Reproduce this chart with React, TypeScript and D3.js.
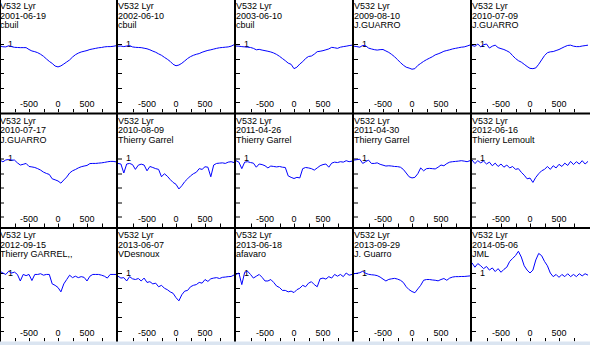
import * as d3 from "d3";
import { useEffect, useRef } from "react";

const STAR = "V532 Lyr";

const dates = [
	"2001-06-19", "2002-06-10", "2003-06-10", "2009-08-10", "2010-07-09",
	"2010-07-17", "2010-08-09", "2011-04-26", "2011-04-30", "2012-06-16",
	"2012-09-15", "2013-06-07", "2013-06-18", "2013-09-29", "2014-05-06",
];

const observers = [
	"cbuil", "cbuil", "cbuil", "J.GUARRO", "J.GUARRO",
	"J.GUARRO", "Thierry Garrel", "Thierry Garrel", "Thierry Garrel", "Thierry Lemoult",
	"Thierry GARREL,,", "VDesnoux", "afavaro", "J. Guarro", "JML",
];

// radial velocity grid (km/s)
const velocity = [
	-1000, -950, -900, -850, -800, -750, -700, -650, -600, -550, -500,
	-450, -400, -350, -300, -250, -200, -150, -100, -50, 0,
	50, 100, 150, 200, 250, 300, 350, 400, 450, 500,
	550, 600, 650, 700, 750, 800, 850, 900, 950, 1000,
];

// normalised flux, one array per spectrum
const flux01 = [
	0.986, 0.981, 0.98, 0.988, 0.982, 0.977, 0.976, 0.975, 0.975, 0.975, 0.962,
	0.952, 0.947, 0.94, 0.929, 0.915, 0.897, 0.88, 0.866, 0.848, 0.842,
	0.849, 0.862, 0.876, 0.89, 0.91, 0.926, 0.937, 0.945, 0.95, 0.955,
	0.962, 0.966, 0.97, 0.974, 0.976, 0.98, 0.982, 0.982, 0.984, 0.988,
];
const flux02 = [
	0.985, 0.986, 0.982, 0.986, 0.989, 0.98, 0.977, 0.976, 0.975, 0.971, 0.967,
	0.96, 0.951, 0.943, 0.932, 0.922, 0.908, 0.895, 0.88, 0.86, 0.85,
	0.855, 0.867, 0.883, 0.9, 0.913, 0.922, 0.929, 0.934, 0.943, 0.95,
	0.956, 0.96, 0.965, 0.97, 0.974, 0.976, 0.978, 0.98, 0.985, 0.995,
];
const flux03 = [
	0.986, 0.985, 0.982, 0.98, 0.978, 0.976, 0.97, 0.96, 0.963, 0.958, 0.954,
	0.95, 0.945, 0.938, 0.928, 0.915, 0.9, 0.885, 0.868, 0.86, 0.83,
	0.84, 0.862, 0.878, 0.9, 0.914, 0.917, 0.93, 0.947, 0.95, 0.954,
	0.96, 0.966, 0.977, 0.974, 0.97, 0.978, 0.982, 0.985, 0.989, 0.992,
];
const flux04 = [
	0.985, 0.982, 0.978, 0.99, 0.988, 0.972, 0.966, 0.961, 0.958, 0.961, 0.962,
	0.952, 0.942, 0.928, 0.912, 0.892, 0.872, 0.854, 0.84, 0.834, 0.826,
	0.83, 0.852, 0.866, 0.88, 0.892, 0.902, 0.912, 0.925, 0.932, 0.94,
	0.95, 0.955, 0.96, 0.966, 0.97, 0.974, 0.978, 0.98, 0.986, 0.993,
];
const flux05 = [
	0.99, 0.984, 1.0, 0.98, 0.995, 1.0, 0.972, 0.985, 0.992, 0.975, 0.968,
	0.962, 0.953, 0.942, 0.92, 0.9, 0.885, 0.875, 0.86, 0.845, 0.832,
	0.83, 0.835, 0.86, 0.89, 0.92, 0.94, 0.946, 0.948, 0.955, 0.962,
	0.972, 0.982, 0.99, 0.992, 0.985, 0.982, 0.982, 0.986, 0.989, 0.992,
];
const flux06 = [
	0.989, 0.977, 0.99, 0.993, 0.989, 0.989, 0.97, 0.955, 0.96, 0.966, 0.945,
	0.942, 0.938, 0.93, 0.92, 0.906, 0.897, 0.89, 0.86, 0.853, 0.845,
	0.83, 0.852, 0.872, 0.9, 0.915, 0.924, 0.935, 0.943, 0.948, 0.952,
	0.965, 0.966, 0.966, 0.968, 0.97, 0.973, 0.977, 0.98, 0.98, 0.977,
];
const flux07 = [
	0.966, 0.962, 0.9, 0.962, 0.966, 0.958, 0.925, 0.954, 0.961, 0.955, 0.915,
	0.945, 0.938, 0.93, 0.925, 0.874, 0.895, 0.878, 0.855, 0.835, 0.822,
	0.79, 0.812, 0.84, 0.86, 0.88, 0.895, 0.905, 0.93, 0.925, 0.943,
	0.94, 0.874, 0.955, 0.966, 0.968, 0.97, 0.966, 0.975, 0.978, 0.972,
];
const flux08 = [
	0.985, 0.975, 0.93, 0.975, 0.978, 0.972, 0.968, 0.94, 0.962, 0.958, 0.95,
	0.935, 0.948, 0.945, 0.942, 0.945, 0.94, 0.938, 0.88, 0.87, 0.862,
	0.87, 0.866, 0.93, 0.938, 0.935, 0.93, 0.92, 0.935, 0.95, 0.958,
	0.962, 0.94, 0.968, 0.975, 0.972, 0.978, 0.975, 0.985, 0.978, 0.982,
];
const flux09 = [
	0.989, 0.992, 0.995, 0.966, 0.978, 0.989, 0.966, 0.966, 0.97, 0.96, 0.954,
	0.948, 0.95, 0.948, 0.945, 0.944, 0.94, 0.925, 0.9, 0.874, 0.866,
	0.87, 0.895, 0.935, 0.915, 0.93, 0.932, 0.93, 0.928, 0.94, 0.955,
	0.95, 0.965, 0.975, 0.978, 0.98, 0.982, 0.985, 0.982, 0.978, 0.985,
];
const flux10 = [
	0.99, 0.965, 0.985, 0.97, 0.982, 0.962, 0.975, 0.95, 0.968, 0.945, 0.962,
	0.94, 0.955, 0.935, 0.945, 0.925, 0.93, 0.905, 0.885, 0.86, 0.865,
	0.835, 0.87, 0.895, 0.915, 0.925, 0.945, 0.925, 0.95, 0.935, 0.96,
	0.945, 0.968, 0.952, 0.98, 0.958, 0.978, 0.962, 0.985, 0.962, 0.98,
];
const flux11 = [
	1.012, 1.0, 0.99, 1.012, 1.0, 1.006, 0.99, 0.945, 0.99, 0.982, 0.99,
	0.948, 0.99, 0.99, 0.995, 0.985, 0.99, 0.99, 0.925, 0.915, 0.9,
	0.87, 0.925, 0.955, 0.985, 0.968, 0.978, 0.968, 0.975, 0.97, 0.945,
	0.978, 0.99, 0.99, 0.99, 0.985, 0.978, 0.965, 0.99, 0.99, 0.99,
];
const flux12 = [
	0.978, 0.965, 0.968, 0.945, 0.975, 0.96, 0.955, 0.962, 0.945, 0.965, 0.935,
	0.94, 0.925, 0.93, 0.905, 0.915, 0.895, 0.885, 0.87, 0.86, 0.83,
	0.808, 0.85, 0.875, 0.88, 0.905, 0.915, 0.92, 0.935, 0.93, 0.955,
	0.942, 0.96, 0.965, 0.968, 0.962, 0.97, 0.972, 0.975, 0.976, 0.986,
];
const flux13 = [
	0.99, 1.0, 0.92, 1.005, 1.012, 0.99, 0.965, 0.978, 0.99, 0.97, 0.945,
	0.945, 0.955, 0.935, 0.91, 0.9, 0.88, 0.88, 0.87, 0.875, 0.865,
	0.885, 0.895, 0.915, 0.905, 0.93, 0.94, 0.92, 0.905, 0.96, 0.965,
	0.958, 0.975, 0.965, 0.99, 0.978, 0.99, 0.975, 1.0, 0.985, 0.99,
];
const flux14 = [
	0.995, 0.998, 1.002, 1.012, 0.998, 0.991, 0.988, 0.986, 0.982, 0.972, 0.958,
	0.945, 0.956, 0.96, 0.963, 0.958, 0.95, 0.935, 0.905, 0.885, 0.872,
	0.864, 0.89, 0.915, 0.95, 0.955, 0.955, 0.952, 0.95, 0.946, 0.955,
	0.962, 0.95, 0.965, 0.972, 0.975, 0.975, 0.976, 0.976, 0.978, 0.98,
];
const flux15 = [
	1.07, 1.04, 1.065, 1.05, 1.03, 1.045, 1.02, 1.035, 1.01, 1.03, 1.005,
	1.025, 1.04, 1.08, 1.1, 1.12, 1.15, 1.11, 1.05, 1.02, 1.0,
	1.02, 1.09, 1.135, 1.12, 1.08, 1.05, 1.0, 0.975, 0.99, 0.97,
	0.99, 0.975, 0.995, 0.975, 0.99, 0.975, 0.995, 0.98, 0.995, 0.985,
];

const spectra = [
	flux01, flux02, flux03, flux04, flux05,
	flux06, flux07, flux08, flux09, flux10,
	flux11, flux12, flux13, flux14, flux15,
];

const yTicks = [1, 0.9, 0.8, 0.7, 0.6];
const yTickLabels = [1];
const xTicks = [-750, -500, -250, 0, 250, 500, 750];
const xTickLabels = [-500, 0, 500];

const WIDTH = 590;
const HEIGHT = 345;
const COLS = 5;
const CELL_W = 118;
const CELL_H = 114.5;
const PLOT_W = 116;
const PLOT_H = 112.5;
const FONT = "'Liberation Sans', Arial, sans-serif";

export default function App() {
	const ref = useRef<SVGSVGElement>(null);

	useEffect(() => {
		const svg = d3.select(ref.current);
		svg.selectAll("*").remove();

		svg.append("rect")
			.attr("width", WIDTH)
			.attr("height", HEIGHT)
			.attr("fill", "#ffffff");

		const xScale = d3.scaleLinear().domain([-1000, 1000]).range([0, PLOT_W]);
		// 0.1 in flux = 14.5 px, continuum (1) at 44 px below the panel top
		const yScale = d3.scaleLinear().domain([1, 0]).range([44, 44 + 145]);

		const line = d3
			.line<number>()
			.x((d, i) => xScale(velocity[i]))
			.y((d) => yScale(d));

		spectra.forEach((flux, i) => {
			const r = Math.floor(i / COLS);
			const c = i % COLS;
			const g = svg
				.append("g")
				.attr("transform", `translate(${c * CELL_W},${r * CELL_H})`);

			const clipId = "clip-" + i;
			g.append("clipPath")
				.attr("id", clipId)
				.append("rect")
				.attr("width", PLOT_W)
				.attr("height", PLOT_H);

			const inner = g.append("g").attr("clip-path", `url(#${clipId})`);

			// header
			[STAR, dates[i], observers[i]].forEach((t, k) => {
				inner.append("text")
					.attr("x", 0)
					.attr("y", 9 + k * 9.7)
					.attr("font-family", FONT)
					.attr("font-size", 9)
					.attr("fill", "#000")
					.text(t);
			});

			// y ticks
			inner.selectAll(".yt")
				.data(yTicks)
				.enter()
				.append("line")
				.attr("x1", 0)
				.attr("x2", 4)
				.attr("y1", (d) => Math.round(yScale(d)) + 0.5)
				.attr("y2", (d) => Math.round(yScale(d)) + 0.5)
				.attr("stroke", "#000")
				.attr("stroke-width", 1);
			inner.selectAll(".yl")
				.data(yTickLabels)
				.enter()
				.append("text")
				.attr("x", 8)
				.attr("y", (d) => yScale(d) + 2.5)
				.attr("font-family", FONT)
				.attr("font-size", 9)
				.attr("fill", "#000")
				.text((d) => String(d));

			// x ticks
			inner.selectAll(".xt")
				.data(xTicks)
				.enter()
				.append("line")
				.attr("x1", (d) => Math.round(xScale(d)) + 0.5)
				.attr("x2", (d) => Math.round(xScale(d)) + 0.5)
				.attr("y1", PLOT_H - 3.5)
				.attr("y2", PLOT_H)
				.attr("stroke", "#000")
				.attr("stroke-width", 1);
			inner.selectAll(".xl")
				.data(xTickLabels)
				.enter()
				.append("text")
				.attr("x", (d) => xScale(d))
				.attr("y", PLOT_H - 5.5)
				.attr("text-anchor", "middle")
				.attr("font-family", FONT)
				.attr("font-size", 9)
				.attr("fill", "#000")
				.text((d) => String(d));

			// spectrum
			inner.append("path")
				.datum(flux)
				.attr("d", line)
				.attr("fill", "none")
				.attr("stroke", "#0000ff")
				.attr("stroke-width", 1);
		});

		// grid borders
		svg.append("rect")
			.attr("x", 0)
			.attr("y", 0)
			.attr("width", 1)
			.attr("height", HEIGHT)
			.attr("fill", "#000");
		for (let c = 0; c < COLS - 1; c++) {
			svg.append("rect")
				.attr("x", c * CELL_W + PLOT_W)
				.attr("y", 0)
				.attr("width", 2)
				.attr("height", HEIGHT)
				.attr("fill", "#000");
		}
		for (let r = 0; r < 2; r++) {
			svg.append("rect")
				.attr("x", 0)
				.attr("y", r * CELL_H + PLOT_H)
				.attr("width", WIDTH)
				.attr("height", 2)
				.attr("fill", "#000");
		}
		svg.append("rect")
			.attr("x", 0)
			.attr("y", 341.5)
			.attr("width", WIDTH)
			.attr("height", HEIGHT - 341.5)
			.attr("fill", "#dbe5f1");
	}, []);

	return (
		<svg
			ref={ref}
			width={WIDTH}
			height={HEIGHT}
			style={{ position: "absolute", left: 0, top: 0 }}
		/>
	);
}
